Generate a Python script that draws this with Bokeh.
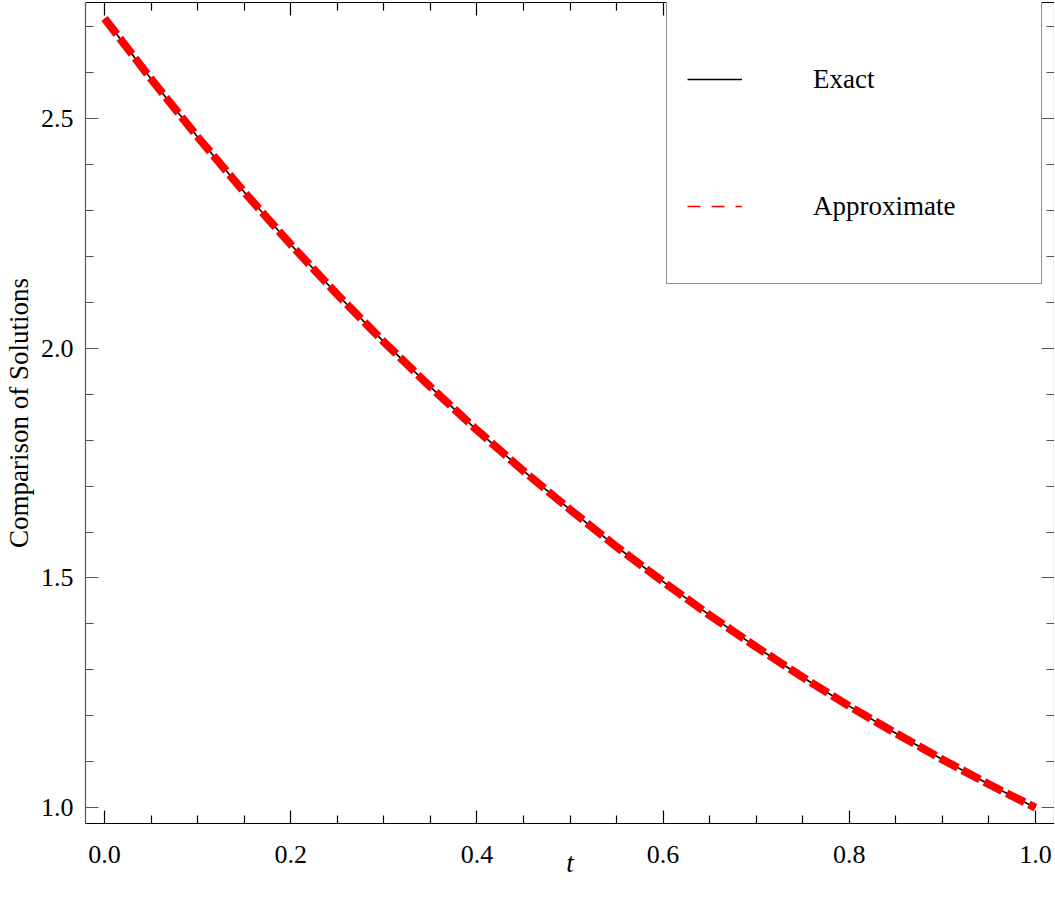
from bokeh.plotting import figure
from bokeh.models import (LinearAxis, FixedTicker, PrintfTickFormatter, Range1d,
                          Legend, LegendItem)
from bokeh.embed import file_html
from bokeh.resources import INLINE

# Data
t_values = [0.00, 0.05, 0.10, 0.15, 0.20, 0.25, 0.30, 0.35, 0.40, 0.45, 0.50,
            0.55, 0.60, 0.65, 0.70, 0.75, 0.80, 0.85, 0.90, 0.95, 1.00]
exact_values = [2.718, 2.586, 2.460, 2.340, 2.226, 2.117, 2.014, 1.916, 1.822, 1.733, 1.649,
                1.568, 1.492, 1.419, 1.350, 1.284, 1.221, 1.162, 1.105, 1.051, 1.000]
approx_values = [2.718, 2.586, 2.460, 2.340, 2.226, 2.117, 2.014, 1.916, 1.822, 1.733, 1.649,
                 1.568, 1.492, 1.419, 1.350, 1.284, 1.221, 1.162, 1.105, 1.051, 1.000]
x_major_ticks = [0.0, 0.2, 0.4, 0.6, 0.8, 1.0]
x_minor_ticks = [0.05, 0.1, 0.15, 0.25, 0.3, 0.35, 0.45, 0.5, 0.55, 0.65, 0.7, 0.75,
                 0.85, 0.9, 0.95]
y_major_ticks = [1.0, 1.5, 2.0, 2.5]
y_minor_ticks = [1.1, 1.2, 1.3, 1.4, 1.6, 1.7, 1.8, 1.9, 2.1, 2.2, 2.3, 2.4, 2.6, 2.7]
series_names = ["Exact", "Approximate"]
x_label = "t"
y_label = "Comparison of Solutions"

FONT = "Liberation Serif"
NAN = float("nan")

p = figure(frame_width=969, frame_height=821,
           x_range=Range1d(-0.0205, 1.0205), y_range=Range1d(0.9656, 2.7527),
           output_backend="svg", toolbar_location=None,
           x_axis_location=None, y_axis_location=None,
           min_border_left=0, min_border_right=0, min_border_top=2, min_border_bottom=0)
p.xgrid.visible = False
p.ygrid.visible = False
p.outline_line_color = None
p.background_fill_color = "white"
p.border_fill_color = "white"


def make_axis(ticks, minor, color, show_labels, standoff=12):
    ax = LinearAxis(ticker=FixedTicker(ticks=ticks, minor_ticks=minor),
                    formatter=PrintfTickFormatter(format="%.1f"))
    ax.axis_line_color = color
    ax.axis_line_width = 1.2
    ax.major_tick_line_color = color
    ax.minor_tick_line_color = color
    ax.major_tick_in = 13
    ax.major_tick_out = 0
    ax.minor_tick_in = 8
    ax.minor_tick_out = 0
    ax.major_tick_line_width = 1.2
    ax.minor_tick_line_width = 1.2
    if show_labels:
        ax.major_label_text_font = FONT
        ax.major_label_text_font_size = "26px"
        ax.major_label_text_color = "black"
        ax.major_label_standoff = standoff
    else:
        ax.major_label_text_font_size = "0px"
        ax.major_label_standoff = 0
        ax.major_label_text_alpha = 0
    return ax


bottom = make_axis(x_major_ticks, x_minor_ticks, "black", True, standoff=22)
bottom.axis_label = x_label
bottom.axis_label_text_font = FONT
bottom.axis_label_text_font_style = "italic"
bottom.axis_label_text_font_size = "27px"
bottom.axis_label_text_color = "black"
bottom.axis_label_standoff = -18
p.add_layout(bottom, "below")

top = make_axis(x_major_ticks, x_minor_ticks, "black", False)
p.add_layout(top, "above")

left = make_axis(y_major_ticks, y_minor_ticks, "#555555", True, standoff=12)
left.axis_label = y_label
left.axis_label_text_font = FONT
left.axis_label_text_font_style = "normal"
left.axis_label_text_font_size = "27px"
left.axis_label_text_color = "black"
left.axis_label_standoff = 4
p.add_layout(left, "left")

right = make_axis(y_major_ticks, y_minor_ticks, "#555555", False)
p.add_layout(right, "right")

# Curves
p.line(t_values, exact_values, line_color="black", line_width=1.6)
p.line(t_values, approx_values, line_color="red", line_width=8,
       line_dash="20 5", line_cap="butt")

# Thin renderers used only as legend samples (no visible data)
leg_exact = p.line(x=[NAN, NAN], y=[NAN, NAN], line_color="black", line_width=1.3)
leg_approx = p.line(x=[NAN, NAN], y=[NAN, NAN], line_color="red", line_width=1.5,
                    line_dash="13 11")

legend = Legend(items=[LegendItem(label=series_names[0], renderers=[leg_exact]),
                       LegendItem(label=series_names[1], renderers=[leg_approx])],
                location=(581, 539))
legend.margin = 0
legend.padding = 20
legend.spacing = 13
legend.glyph_width = 55
legend.glyph_height = 114
legend.label_standoff = 71
legend.label_width = 208
legend.label_text_font = FONT
legend.label_text_font_size = "27px"
legend.label_text_color = "black"
legend.border_line_color = "#222222"
legend.border_line_width = 1.2
legend.background_fill_color = "white"
legend.background_fill_alpha = 1.0
p.add_layout(legend, "center")

open("out.html", "w").write(file_html(p, INLINE))
